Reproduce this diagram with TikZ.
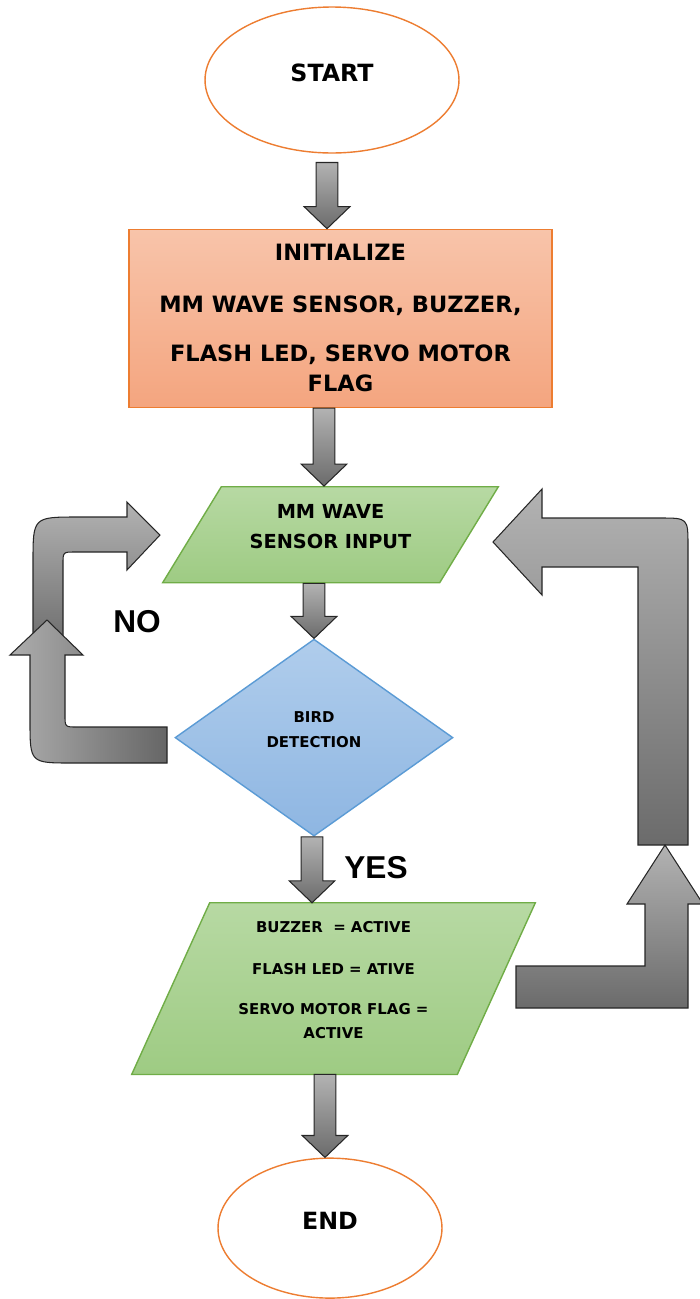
\documentclass[tikz,border=0pt]{standalone}
\usepackage{fontspec}
\setmainfont{DejaVu Sans}
\newfontfamily\tagfont{Liberation Sans}
\usetikzlibrary{shapes.geometric,positioning,calc,backgrounds}
\definecolor{flowline}{HTML}{ED7D31}
\definecolor{initTop}{HTML}{F8C4AA}
\definecolor{initBot}{HTML}{F4A57F}
\definecolor{leafTop}{HTML}{B7D9A3}
\definecolor{leafBot}{HTML}{9ECB83}
\definecolor{leafLine}{HTML}{70AD47}
\definecolor{skyTop}{HTML}{B0CDEC}
\definecolor{skyBot}{HTML}{8EB6E2}
\definecolor{skyLine}{HTML}{5B9BD5}
\definecolor{ink}{HTML}{262626}

% straight block arrow: [gap] from, to, x in px
\newcommand{\flowdrop}[4][0pt]{%
  \path[blockarrow] let \p1=(#2.south), \p2=(#3.north), \p3=(#4,0) in
    (\x3-6.2pt,\y1-#1) -- (\x3+6.2pt,\y1-#1) -- (\x3+6.2pt,\y2+12.5pt)
    -- (\x3+13pt,\y2+12.5pt) -- (\x3,\y2) -- (\x3-13pt,\y2+12.5pt)
    -- (\x3-6.2pt,\y2+12.5pt) -- cycle;}

\begin{document}
\begin{tikzpicture}[
  x=0.02cm,y=-0.02cm,
  terminal/.style={ellipse,draw=flowline,line width=.8pt,fill=white,
                   inner sep=0pt,text depth=8pt,
                   font=\bfseries\fontsize{13.5}{16}\selectfont},
  initbox/.style={rectangle,draw=flowline,line width=.8pt,top color=initTop,
                  bottom color=initBot,minimum width=8.46cm,minimum height=3.56cm,
                  align=center,inner sep=0pt,
                  font=\bfseries\fontsize{12.8}{15}\selectfont},
  iobox/.style={trapezium,trapezium stretches=true,draw=leafLine,line width=.8pt,
                top color=leafTop,bottom color=leafBot,align=center,inner sep=0pt},
  iofill/.style={draw=leafLine,line width=.8pt,top color=leafTop,bottom color=leafBot},
  decision/.style={diamond,draw=skyLine,line width=.8pt,top color=skyTop,
                   bottom color=skyBot,minimum width=5.56cm,minimum height=3.94cm,
                   inner sep=0pt,align=center,
                   font=\bfseries\fontsize{8.5}{14}\selectfont},
  blockarrow/.style={draw=ink,line width=.6pt,top color=black!30,bottom color=black!58},
  tag/.style={font=\tagfont\bfseries\fontsize{18}{20}\selectfont}
]
\useasboundingbox (0,0) rectangle (700,1299);
\node[terminal,minimum width=5.08cm,minimum height=2.92cm] (start) at (332,80) {START};
\node[initbox,below=1.5cm of start,xshift=.17cm] (init)
  {INITIALIZE\\[14.5pt]MM WAVE SENSOR, BUZZER,\\[13pt]FLASH LED, SERVO MOTOR\\[2pt]FLAG};
\node[iobox,minimum width=6.72cm,minimum height=1.92cm,
      trapezium left angle=54,trapezium right angle=126,text depth=9pt,
      font=\bfseries\fontsize{11}{17}\selectfont,
      below=1.56cm of init,xshift=-.2cm] (sense) {MM WAVE\\SENSOR INPUT};
\node[decision,text depth=9pt,below=1.1cm of sense,xshift=-.33cm] (detect)
  {BIRD\\DETECTION};
\node[minimum width=6.5cm,minimum height=3.42cm,inner sep=0pt,align=center,
      text depth=10pt,font=\bfseries\fontsize{8.5}{13.6}\selectfont,
      below=1.32cm of detect,xshift=.39cm] (alarm)
  {BUZZER\ \ = ACTIVE\\[10.2pt]FLASH LED = ATIVE\\[9pt]SERVO MOTOR FLAG =\\ACTIVE};
\begin{scope}[on background layer]
  \path[iofill] ($(alarm.north west)+(39,0)$) -- ($(alarm.north east)+(39,0)$)
    -- ($(alarm.south east)+(-39,0)$) -- ($(alarm.south west)+(-39,0)$) -- cycle;
\end{scope}
\node[terminal,minimum width=4.48cm,minimum height=2.8cm,
      below=1.66cm of alarm,xshift=-.07cm] (finish) {END};

\flowdrop[5pt]{start}{init}{327}
\flowdrop{init}{sense}{324}
\flowdrop{sense}{detect}{314}
\flowdrop{detect}{alarm}{312}
\flowdrop{alarm}{finish}{325}

% NO loop, left side
\path[blockarrow] (33,650) -- (33,562) .. controls (33,517) .. (78,517) -- (127,517)
  -- (127,502) -- (160,535) -- (127,570) -- (127,552) -- (75,552)
  .. controls (63,552) .. (63,564) -- (63,650) -- cycle;
\path[blockarrow,left color=black!32,right color=black!60] (167,727) -- (77,727)
  .. controls (65,727) .. (65,715) -- (65,655) -- (83,655) -- (47,620)
  -- (10,655) -- (30,655) -- (30,721) .. controls (30,763) .. (72,763)
  -- (167,763) -- cycle;
\node[tag] (no) at (137,622) {NO};

% back loop, right side
\path[blockarrow] (638,845) -- (688,845) -- (688,546) .. controls (688,518) .. (660,518)
  -- (542,518) -- (542,489) -- (493,542) -- (542,595) -- (542,567)
  -- (638,567) -- cycle;
\path[blockarrow] (516,966) -- (645,966) -- (645,904) -- (627,904) -- (665,845)
  -- (703,904) -- (688,904) -- (688,1008) -- (516,1008) -- cycle;
\node[tag] (yes) at (376,868) {YES};
\end{tikzpicture}
\end{document}
